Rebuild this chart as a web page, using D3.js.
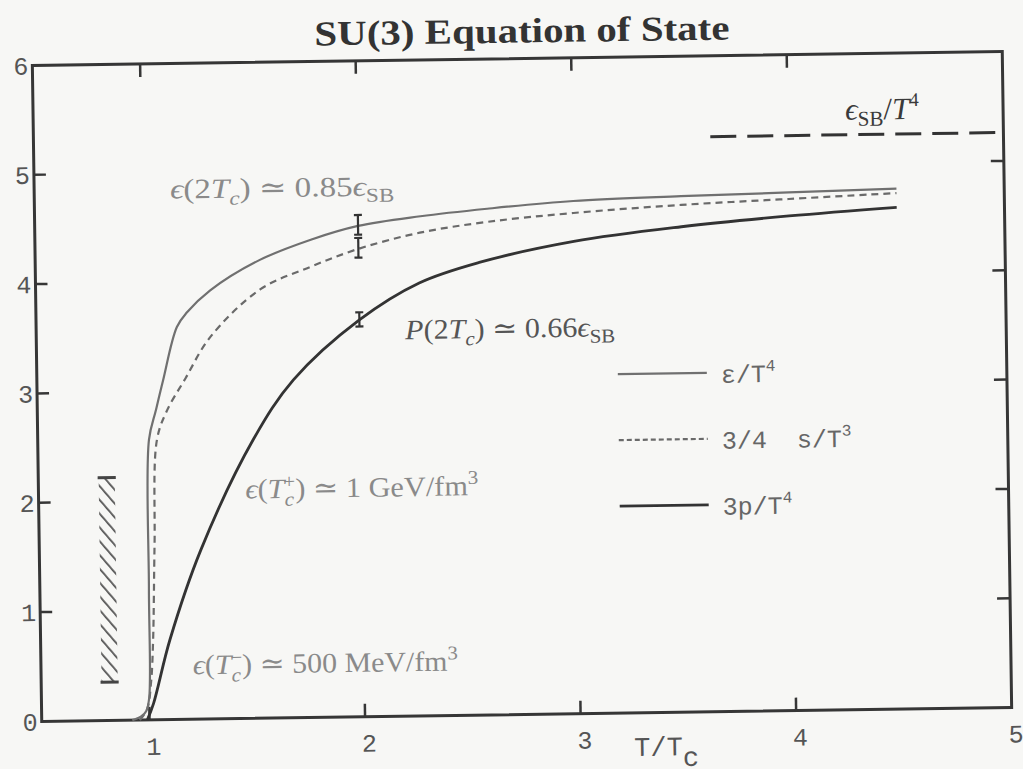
<!DOCTYPE html>
<html>
<head>
<meta charset="utf-8">
<script src="https://cdn.jsdelivr.net/npm/d3@7"></script>
<style>
  body { margin: 0; background: #f7f7f5; }
  svg { display: block; }
</style>
</head>
<body>
<svg id="chart" width="1023" height="769"></svg>
<script>
// values
var epsT = [0.92, 0.96, 0.985, 1.0, 1.006, 1.016, 1.05, 1.085, 1.153, 1.2, 1.31, 1.54, 1.78, 2.0, 2.29, 2.6, 3.0, 3.5, 4.0, 4.5];
var epsY = [0, 0.03, 0.08, 0.2, 1.2, 2.56, 2.83, 3.1, 3.59, 3.72, 3.92, 4.19, 4.37, 4.49, 4.57, 4.63, 4.69, 4.72, 4.74, 4.76];

var entT = [0.955, 0.99, 1.01, 1.022, 1.035, 1.053, 1.1, 1.19, 1.306, 1.54, 1.774, 2.0, 2.286, 2.6, 3.0, 3.5, 4.0, 4.5];
var entY = [0, 0.1, 0.35, 0.73, 1.6, 2.56, 2.82, 3.12, 3.49, 3.92, 4.12, 4.28, 4.42, 4.51, 4.58, 4.64, 4.68, 4.72];

var presT = [0.99, 1.02, 1.1, 1.25, 1.5, 1.69, 2.0, 2.28, 2.56, 3.0, 3.5, 4.0, 4.5];
var presY = [0, 0.15, 0.73, 1.55, 2.55, 3.09, 3.63, 3.96, 4.14, 4.32, 4.44, 4.525, 4.59];

var errT = [2.0, 2.0, 2.0];
var errLo = [4.41, 4.2, 3.57];
var errHi = [4.59, 4.38, 3.7];

var hatchT = [0.78, 0.855];
var hatchY = [0.35, 2.22];

var sbT = [3.64, 4.98];
var sbY = 5.26;

var xTicks = [1, 2, 3, 4, 5];
var yTicks = [0, 1, 2, 3, 4, 5, 6];

var W = 970, H = 656;
var svg = d3.select("#chart");

// the scan is tilted a little, so the whole plot is drawn in a rotated frame
var g = svg.append("g")
    .attr("transform", "translate(522,386.5) rotate(-0.82) translate(" + (-W / 2) + "," + (-H / 2) + ")");

var x = d3.scaleLinear().domain([0.5, 5]).range([0, W]);
var y = d3.scaleLinear().domain([0, 6]).range([H, 0]);

var defs = svg.append("defs");
var pat = defs.append("pattern")
    .attr("id", "hatch")
    .attr("patternUnits", "userSpaceOnUse")
    .attr("width", 9).attr("height", 9)
    .attr("patternTransform", "rotate(-40)");
pat.append("line")
    .attr("x1", 0).attr("y1", 0).attr("x2", 0).attr("y2", 9)
    .attr("stroke", "#555").attr("stroke-width", 3.6);

var ink = "#363636";
var grey = "#8a8a8a";
var mono = "'Liberation Mono', 'DejaVu Sans Mono', monospace";
var serif = "'Liberation Serif', 'DejaVu Serif', serif";

// frame
g.append("rect")
    .attr("x", 0).attr("y", 0).attr("width", W).attr("height", H)
    .attr("fill", "none").attr("stroke", ink).attr("stroke-width", 3);

// inward ticks on all four sides
xTicks.filter(function (d) { return d < 5; }).forEach(function (d) {
    g.append("line").attr("x1", x(d)).attr("x2", x(d)).attr("y1", 0).attr("y2", 13)
        .attr("stroke", ink).attr("stroke-width", 2.5);
    g.append("line").attr("x1", x(d)).attr("x2", x(d)).attr("y1", H).attr("y2", H - 13)
        .attr("stroke", ink).attr("stroke-width", 2.5);
});
yTicks.filter(function (d) { return d > 0 && d < 6; }).forEach(function (d) {
    g.append("line").attr("x1", 0).attr("x2", 12).attr("y1", y(d)).attr("y2", y(d))
        .attr("stroke", ink).attr("stroke-width", 2.5);
    g.append("line").attr("x1", W).attr("x2", W - 13).attr("y1", y(d)).attr("y2", y(d))
        .attr("stroke", ink).attr("stroke-width", 2.5);
});

// tick labels
g.selectAll(".xl").data(xTicks).enter().append("text")
    .attr("x", function (d) { return x(d) + 4; })
    .attr("y", H + 35)
    .attr("text-anchor", "middle")
    .attr("font-family", mono).attr("font-size", 25).attr("fill", "#555")
    .text(function (d) { return d; });
g.selectAll(".yl").data(yTicks).enter().append("text")
    .attr("x", -4)
    .attr("y", function (d) { return y(d) + 9; })
    .attr("text-anchor", "end")
    .attr("font-family", mono).attr("font-size", 25).attr("fill", "#555")
    .text(function (d) { return d; });

// rich text with italics, sub- and superscripts
function rich(sel, px, py, parts, size, fill, family, len) {
    var t = sel.append("text").attr("x", px).attr("y", py)
        .attr("font-size", size).attr("fill", fill).attr("font-family", family)
        .style("white-space", "pre");
    if (len) t.attr("textLength", len).attr("lengthAdjust", "spacingAndGlyphs");
    var cur = 0;
    parts.forEach(function (p) {
        var shift = (p.sh || 0) * size;
        var ts = t.append("tspan").text(p.t).attr("dy", shift - cur);
        cur = shift;
        if (p.i) ts.attr("font-style", "italic");
        if (p.s) ts.attr("font-size", size * p.s);
        if (p.dx) ts.attr("dx", p.dx * size);
    });
    return t;
}

// axis title
rich(g, 592, 699, [{t: "T/T"}, {t: "c", sh: 0.4}], 27, "#555", mono);

// chart title
g.append("text")
    .attr("x", W / 2 + 5).attr("y", -16)
    .attr("text-anchor", "middle")
    .attr("font-family", serif).attr("font-weight", "bold")
    .attr("font-size", 35).attr("fill", "#333")
    .attr("textLength", 415).attr("lengthAdjust", "spacingAndGlyphs")
    .text("SU(3) Equation of State");

// curves
var line = d3.line()
    .x(function (d) { return x(d[0]); })
    .y(function (d) { return y(d[1]); })
    .curve(d3.curveCatmullRom.alpha(0.5));

g.append("path").datum(d3.zip(entT, entY))
    .attr("d", line).attr("fill", "none")
    .attr("stroke", "#6a6a6a").attr("stroke-width", 2.2)
    .attr("stroke-dasharray", "7,5");
g.append("path").datum(d3.zip(epsT, epsY))
    .attr("d", line).attr("fill", "none")
    .attr("stroke", "#707070").attr("stroke-width", 2.2);
g.append("path").datum(d3.zip(presT, presY))
    .attr("d", line).attr("fill", "none")
    .attr("stroke", "#333").attr("stroke-width", 2.8);

// error bars at 2 Tc
errT.forEach(function (t, i) {
    var cx = x(t);
    g.append("line").attr("x1", cx).attr("x2", cx).attr("y1", y(errLo[i])).attr("y2", y(errHi[i]))
        .attr("stroke", "#333").attr("stroke-width", 2.2);
    [errLo[i], errHi[i]].forEach(function (v) {
        g.append("line").attr("x1", cx - 4).attr("x2", cx + 4).attr("y1", y(v)).attr("y2", y(v))
            .attr("stroke", "#333").attr("stroke-width", 2.2);
    });
});

// hatched band near Tc
g.append("rect")
    .attr("x", x(hatchT[0])).attr("y", y(hatchY[1]))
    .attr("width", x(hatchT[1]) - x(hatchT[0]))
    .attr("height", y(hatchY[0]) - y(hatchY[1]))
    .attr("fill", "url(#hatch)");
hatchY.forEach(function (v) {
    g.append("line")
        .attr("x1", x(hatchT[0]) - 1).attr("x2", x(hatchT[1]) + 1)
        .attr("y1", y(v)).attr("y2", y(v))
        .attr("stroke", "#444").attr("stroke-width", 3);
});

// Stefan-Boltzmann limit
g.append("line")
    .attr("x1", x(sbT[0])).attr("x2", x(sbT[1]))
    .attr("y1", y(sbY)).attr("y2", y(sbY))
    .attr("stroke", "#333").attr("stroke-width", 3)
    .attr("stroke-dasharray", "26,11");
rich(g, 812, 66, [{t: "ϵ", i: 1}, {t: "SB", s: 0.68, sh: 0.2}, {t: "/"}, {t: "T", i: 1}, {t: "4", s: 0.62, sh: -0.42}],
    31, "#3a3a3a", serif);

// annotations
rich(g, 136, 135, [{t: "ϵ", i: 1}, {t: "(2"}, {t: "T", i: 1}, {t: "c", i: 1, s: 0.7, sh: 0.25},
    {t: ") ≃ 0.85"}, {t: "ϵ", i: 1}, {t: "SB", s: 0.7, sh: 0.22}], 28, grey, serif, 224);
rich(g, 369, 279, [{t: "P", i: 1}, {t: "(2"}, {t: "T", i: 1}, {t: "c", i: 1, s: 0.7, sh: 0.25},
    {t: ") ≃ 0.66"}, {t: "ϵ", i: 1}, {t: "SB", s: 0.7, sh: 0.22}], 28, "#555", serif, 210);
rich(g, 207, 436, [{t: "ϵ", i: 1}, {t: "("}, {t: "T", i: 1}, {t: "c", i: 1, s: 0.7, sh: 0.28},
    {t: "+", s: 0.7, sh: -0.35, dx: -0.35}, {t: ") ≃ 1 GeV/fm"}, {t: "3", s: 0.7, sh: -0.4}], 28, grey, serif, 233);
rich(g, 152, 611, [{t: "ϵ", i: 1}, {t: "("}, {t: "T", i: 1}, {t: "c", i: 1, s: 0.7, sh: 0.28},
    {t: "−", s: 0.7, sh: -0.35, dx: -0.35}, {t: ") ≃ 500 MeV/fm"}, {t: "3", s: 0.7, sh: -0.4}], 28, grey, serif, 265);

// legend
var legend = [
    {label: [{t: "ε/T"}, {t: "4", s: 0.65, sh: -0.45}], stroke: "#707070", w: 2.4, dash: null, ly: 317},
    {label: [{t: "3/4  s/T"}, {t: "3", s: 0.65, sh: -0.45}], stroke: "#6a6a6a", w: 2.2, dash: "5,3", ly: 383},
    {label: [{t: "3p/T"}, {t: "4", s: 0.65, sh: -0.45}], stroke: "#333", w: 2.8, dash: null, ly: 449}
];
legend.forEach(function (d) {
    var l = g.append("line").attr("x1", 581).attr("x2", 670).attr("y1", d.ly).attr("y2", d.ly)
        .attr("stroke", d.stroke).attr("stroke-width", d.w);
    if (d.dash) l.attr("stroke-dasharray", d.dash);
    rich(g, 684, d.ly + 10, d.label, 25, "#666", mono);
});
</script>
</body>
</html>
